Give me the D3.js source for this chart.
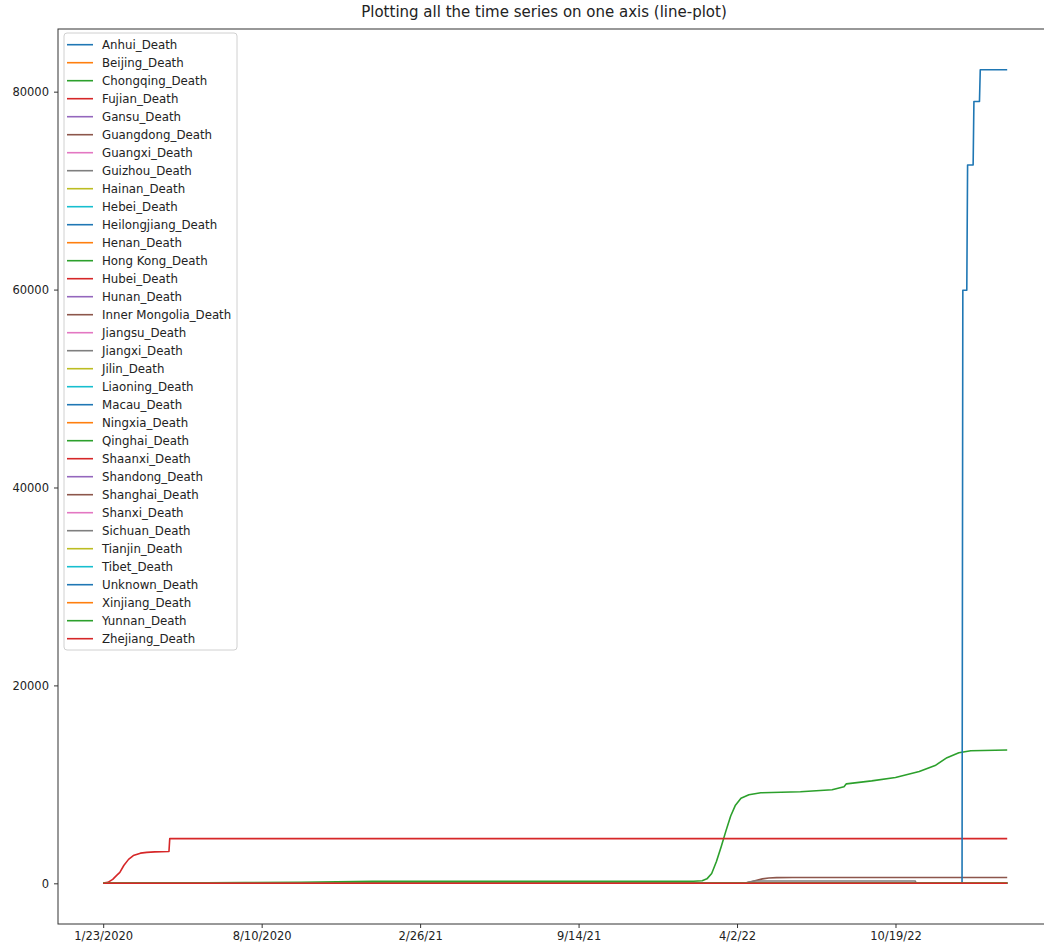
<!DOCTYPE html>
<html>
<head>
<meta charset="utf-8">
<script src="https://cdn.jsdelivr.net/npm/d3@7"></script>
<style>
  body { margin: 0; background: #fff; }
  text { font-family: "DejaVu Sans", sans-serif; fill: #222; }
</style>
</head>
<body>
<div id="chart"></div>
<script>
// x axis is a plain day index (0 = 1/23/2020), ticked every 200 days
const tickIdx = [0, 200, 400, 600, 800, 1000];
const tickLabels = ['1/23/2020', '8/10/2020', '2/26/21', '9/14/21', '4/2/22', '10/19/22'];
const yTicks = [0, 20000, 40000, 60000, 80000];
const lastIdx = 1141;

const provinces = ['Anhui', 'Beijing', 'Chongqing', 'Fujian', 'Gansu', 'Guangdong', 'Guangxi',
  'Guizhou', 'Hainan', 'Hebei', 'Heilongjiang', 'Henan', 'Hong Kong', 'Hubei', 'Hunan',
  'Inner Mongolia', 'Jiangsu', 'Jiangxi', 'Jilin', 'Liaoning', 'Macau', 'Ningxia', 'Qinghai',
  'Shaanxi', 'Shandong', 'Shanghai', 'Shanxi', 'Sichuan', 'Tianjin', 'Tibet', 'Unknown',
  'Xinjiang', 'Yunnan', 'Zhejiang'];

// provinces that stay near zero the whole time: final value
const flatTotals = [6, 9, 6, 1, 2, 8, 2, 2, 6, 7, 13, 22, null, null, 4,
  1, 0, 1, 5, 2, 6, 0, 0, 3, 7, null, 0, null, 3, 0, null, 3, 2, 1];

// the ones that move, as [day index, deaths]
const hubeiPts = [[0, 24], [6, 100], [12, 400], [17, 800], [21, 1100], [26, 1800], [32, 2420],
  [38, 2800], [47, 3050], [55, 3130], [65, 3180], [83, 3222], [84, 4512], [1141, 4512]];
const hongKongPts = [[0, 0], [30, 4], [180, 70], [250, 110], [340, 200], [400, 205], [745, 213],
  [756, 260], [762, 450], [768, 1000], [774, 2200], [780, 3700], [786, 5300], [792, 6800],
  [798, 7900], [805, 8600], [815, 8950], [830, 9150], [880, 9250], [920, 9450], [935, 9750],
  [938, 10050], [970, 10350], [1000, 10700], [1030, 11300], [1050, 11900], [1065, 12700],
  [1080, 13200], [1095, 13400], [1141, 13466]];
const unknownPts = [[0, 0], [1084, 0], [1085, 59938], [1090, 59938], [1091, 72596],
  [1098, 72596], [1099, 79000], [1106, 79000], [1107, 82222], [1141, 82222]];
const shanghaiPts = [[0, 3], [60, 7], [805, 7], [812, 60], [818, 160], [825, 310], [832, 450],
  [840, 540], [850, 580], [870, 588], [1141, 595]];
const sichuanPts = [[0, 3], [810, 3], [815, 120], [822, 230], [1025, 240], [1026, 5], [1141, 5]];

const special = {
  'Hubei': hubeiPts, 'Hong Kong': hongKongPts, 'Unknown': unknownPts,
  'Shanghai': shanghaiPts, 'Sichuan': sichuanPts
};
const colors = ['#1f77b4', '#ff7f0e', '#2ca02c', '#d62728', '#9467bd',
  '#8c564b', '#e377c2', '#7f7f7f', '#bcbd22', '#17becf'];

const series = provinces.map((p, i) => ({
  name: p + '_Death',
  color: colors[i % 10],
  pts: special[p] || [[0, 0], [60, flatTotals[i]], [lastIdx, flatTotals[i]]]
}));

const width = 1044, height = 951;
const plotLeft = 58, plotTop = 29, plotBottom = 924;
const svg = d3.select('#chart').append('svg')
  .attr('width', width)
  .attr('height', height);

// matplotlib style 5% margins
const yMax = d3.max(series, s => d3.max(s.pts, d => d[1]));
const x = d3.scaleLinear().domain([-0.05 * lastIdx, 1.05 * lastIdx]).range([plotLeft, plotLeft + 994.4]);
const y = d3.scaleLinear().domain([-0.05 * yMax, 1.05 * yMax]).range([plotBottom, plotTop]);

const line = d3.line().x(d => x(d[0])).y(d => y(d[1]));

const g = svg.append('g');
g.selectAll('path.series')
  .data(series)
  .enter().append('path')
  .attr('class', 'series')
  .attr('d', d => line(d.pts))
  .attr('fill', 'none')
  .attr('stroke', d => d.color)
  .attr('stroke-width', 1.6)
  .attr('stroke-linejoin', 'round');

// frame
svg.append('rect')
  .attr('x', plotLeft).attr('y', plotTop)
  .attr('width', x.range()[1] - plotLeft).attr('height', plotBottom - plotTop)
  .attr('fill', 'none').attr('stroke', '#333').attr('stroke-width', 1);

// x axis
const xAxis = svg.append('g')
  .attr('transform', 'translate(0,' + plotBottom + ')')
  .call(d3.axisBottom(x).tickValues(tickIdx).tickFormat((d, i) => tickLabels[i]).tickSize(4).tickPadding(4));
xAxis.select('.domain').remove();
xAxis.selectAll('text').style('font-size', '11.5px').style('font-family', '"DejaVu Sans", sans-serif').attr('fill', '#222');
xAxis.selectAll('line').attr('stroke', '#333');

// y axis
const yAxis = svg.append('g')
  .attr('transform', 'translate(' + plotLeft + ',0)')
  .call(d3.axisLeft(y).tickValues(yTicks).tickFormat(d3.format('d')).tickSize(4).tickPadding(5));
yAxis.select('.domain').remove();
yAxis.selectAll('text').style('font-size', '11.5px').style('font-family', '"DejaVu Sans", sans-serif').attr('fill', '#222');
yAxis.selectAll('line').attr('stroke', '#333');

// title
svg.append('text')
  .attr('x', 544).attr('y', 17)
  .style('font-size', '15px')
  .style('text-anchor', 'middle')
  .text('Plotting all the time series on one axis (line-plot)');

// legend
const leg = svg.append('g');
leg.append('rect')
  .attr('x', 64).attr('y', 33).attr('width', 173).attr('height', 617)
  .attr('rx', 3)
  .attr('fill', 'white').attr('fill-opacity', 0.8)
  .attr('stroke', '#d0d0d0');
const rows = leg.selectAll('g.row')
  .data(series)
  .enter().append('g')
  .attr('transform', (d, i) => 'translate(0,' + (44.7 + i * 18) + ')');
rows.append('line')
  .attr('x1', 67).attr('x2', 93)
  .attr('stroke', d => d.color).attr('stroke-width', 1.6);
rows.append('text')
  .attr('x', 102).attr('dy', '0.35em')
  .style('font-size', '11.8px')
  .text(d => d.name);
</script>
</body>
</html>
